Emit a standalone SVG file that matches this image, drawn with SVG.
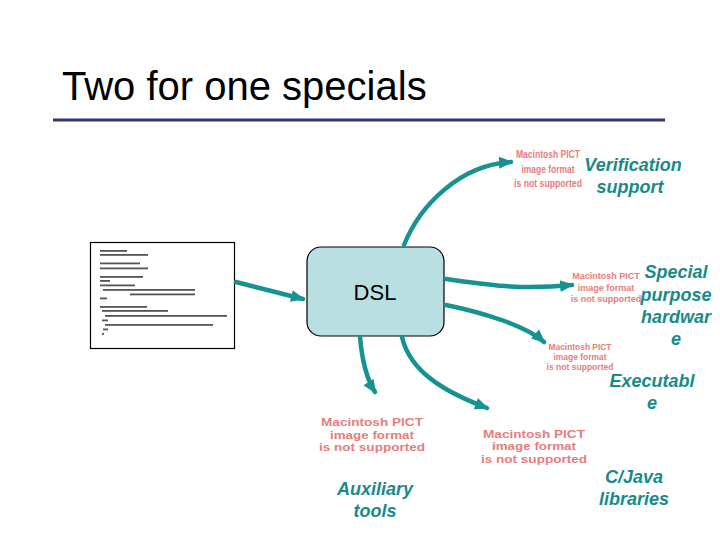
<svg xmlns="http://www.w3.org/2000/svg" width="720" height="540" viewBox="0 0 720 540">
<defs>
<marker id="ah" markerUnits="userSpaceOnUse" markerWidth="16" markerHeight="14" refX="12" refY="7" orient="auto">
<path d="M0,1 L14,7 L0,13 Z" fill="#179292"/>
</marker>
<style>
.title{font-family:"Liberation Sans",Arial,sans-serif;font-size:40px;fill:#000}
.lbl{font-family:"Liberation Sans",Arial,sans-serif;font-size:18px;font-weight:bold;font-style:italic;fill:#178a8a;text-anchor:middle}
.pict{font-family:"Liberation Sans",Arial,sans-serif;font-weight:bold;fill:#e87c7c;text-anchor:middle}
.conn{fill:none;stroke:#179292;stroke-width:4.5;stroke-linecap:round;marker-end:url(#ah)}
.code{fill:#555}
</style>
</defs>
<rect width="720" height="540" fill="#fff"/>
<g id="title">
<text class="title" x="62" y="100">Two for one specials</text>
<line x1="53" y1="120" x2="665" y2="120" stroke="#333377" stroke-width="3"/>
</g>
<g id="code">
<rect x="90.5" y="242.5" width="144" height="106" fill="#fff" stroke="#000" stroke-width="1.2"/>
<g class="code">
<rect x="100" y="250" width="27" height="1.8"/>
<rect x="100" y="254" width="48" height="1.8"/>
<rect x="100" y="262.5" width="40" height="1.8"/>
<rect x="100" y="267.5" width="48" height="1.8"/>
<rect x="100" y="276" width="43" height="1.8"/>
<rect x="100" y="280" width="10" height="1.8"/>
<rect x="100" y="284.5" width="35" height="1.8"/>
<rect x="103" y="289" width="92" height="1.8"/>
<rect x="130" y="293.5" width="65" height="1.8"/>
<rect x="100" y="297.5" width="7" height="1.8"/>
<rect x="100" y="306" width="47" height="1.8"/>
<rect x="102" y="310" width="66" height="1.8"/>
<rect x="105" y="315" width="122" height="1.8"/>
<rect x="102" y="319.5" width="6" height="1.8"/>
<rect x="105" y="324" width="108" height="1.8"/>
<rect x="103" y="328.5" width="5" height="1.8"/>
<rect x="102" y="333" width="2" height="1.8"/>
</g>
</g>
<g id="dsl">
<rect x="307" y="247" width="137" height="89" rx="14" fill="#b9dfe3" stroke="#000" stroke-width="1.2"/>
<text x="375" y="300" font-family="'Liberation Sans',Arial,sans-serif" font-size="22" text-anchor="middle">DSL</text>
</g>
<g id="connectors">
<path class="conn" d="M236,282 L303,299"/>
<path class="conn" d="M404,245 C420,205 460,165 511,162"/>
<path class="conn" d="M446,279 C490,285 520,290 572,285"/>
<path class="conn" d="M446,305 C480,312 525,325 544,342"/>
<path class="conn" d="M360,337 C362,360 366,378 375,392"/>
<path class="conn" d="M402,337 C410,372 445,392 487,408"/>
</g>
<g id="verification">
<text class="pict" font-size="11"><tspan x="548" y="158" textLength="64" lengthAdjust="spacingAndGlyphs">Macintosh PICT</tspan><tspan x="548" y="172.5" textLength="53" lengthAdjust="spacingAndGlyphs">image format</tspan><tspan x="548" y="187" textLength="68" lengthAdjust="spacingAndGlyphs">is not supported</tspan></text>
<text class="lbl"><tspan x="633" y="171">Verification</tspan><tspan x="630" y="193">support</tspan></text>
</g>
<g id="special">
<text class="pict" font-size="9"><tspan x="606" y="279">Macintosh PICT</tspan><tspan x="606" y="290.5">image format</tspan><tspan x="606" y="302">is not supported</tspan></text>
<text class="lbl"><tspan x="676" y="278">Special</tspan><tspan x="676" y="301">purpose</tspan><tspan x="676" y="323">hardwar</tspan><tspan x="676" y="345">e</tspan></text>
</g>
<g id="executable">
<text class="pict" font-size="8.5"><tspan x="580" y="350" textLength="63" lengthAdjust="spacingAndGlyphs">Macintosh PICT</tspan><tspan x="580" y="360" textLength="53" lengthAdjust="spacingAndGlyphs">image format</tspan><tspan x="580" y="370" textLength="67" lengthAdjust="spacingAndGlyphs">is not supported</tspan></text>
<text class="lbl"><tspan x="652" y="387">Executabl</tspan><tspan x="652" y="409">e</tspan></text>
</g>
<g id="auxiliary">
<text class="pict" font-size="10.5"><tspan x="372" y="426" textLength="102" lengthAdjust="spacingAndGlyphs">Macintosh PICT</tspan><tspan x="372" y="438.5" textLength="84" lengthAdjust="spacingAndGlyphs">image format</tspan><tspan x="372" y="451" textLength="106" lengthAdjust="spacingAndGlyphs">is not supported</tspan></text>
<text class="lbl"><tspan x="375" y="495">Auxiliary</tspan><tspan x="375" y="517">tools</tspan></text>
</g>
<g id="cjava">
<text class="pict" font-size="10.5"><tspan x="534" y="437.5" textLength="102" lengthAdjust="spacingAndGlyphs">Macintosh PICT</tspan><tspan x="534" y="450" textLength="84" lengthAdjust="spacingAndGlyphs">image format</tspan><tspan x="534" y="463" textLength="106" lengthAdjust="spacingAndGlyphs">is not supported</tspan></text>
<text class="lbl"><tspan x="634" y="483">C/Java</tspan><tspan x="634" y="505">libraries</tspan></text>
</g>
</svg>
